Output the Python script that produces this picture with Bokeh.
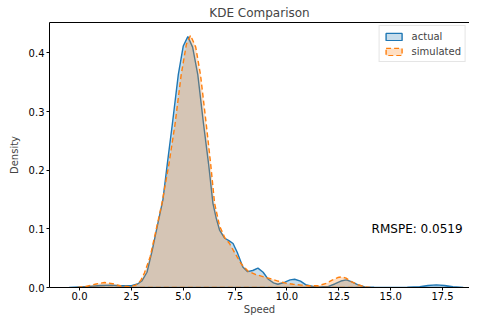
from bokeh.plotting import figure
from bokeh.models import Range1d, FixedTicker, PrintfTickFormatter, LinearAxis, Label, Legend, LegendItem
from bokeh.embed import file_html
from bokeh.resources import INLINE

# actual KDE
actual_x = [-0.5, 0.0, 0.5, 1.0, 1.5, 2.0, 2.5, 2.8, 3.0, 3.25, 3.5, 3.75, 4.02, 4.23, 4.47, 4.76,
            5.0, 5.22, 5.45, 5.7, 5.98, 6.22, 6.43, 6.59, 6.75, 7.0, 7.2, 7.4, 7.6, 7.87, 8.1, 8.35,
            8.6, 8.85, 9.1, 9.35, 9.56, 9.9, 10.15, 10.37, 10.65, 10.9, 11.25, 11.6, 12.0, 12.3,
            12.6, 12.86, 13.1, 13.4, 13.75, 14.2, 15.0, 15.8, 16.4, 16.8, 17.2, 17.6, 18.0, 18.5]
actual_y = [0.0, 0.001, 0.002, 0.0035, 0.004, 0.003, 0.003, 0.006, 0.011, 0.026, 0.063, 0.105, 0.15,
            0.211, 0.278, 0.363, 0.412, 0.428, 0.41, 0.363, 0.278, 0.211, 0.1435, 0.118, 0.098,
            0.084, 0.08, 0.075, 0.06, 0.035, 0.027, 0.029, 0.033, 0.026, 0.014, 0.008, 0.0056,
            0.009, 0.013, 0.014, 0.011, 0.005, 0.0017, 0.001, 0.002, 0.006, 0.011, 0.013, 0.01,
            0.005, 0.001, 0.0003, 0.0002, 0.0006, 0.0015, 0.0035, 0.0045, 0.0035, 0.0012, 0.0]

# simulated KDE
sim_x = [-0.1, 0.3, 0.8, 1.2, 1.6, 2.0, 2.4, 2.7, 2.95, 3.13, 3.4, 3.7, 3.97, 4.31, 4.6, 4.9,
         5.15, 5.35, 5.6, 5.83, 6.11, 6.32, 6.51, 6.75, 7.0, 7.23, 7.5, 7.8, 8.12, 8.5, 9.0,
         9.3, 9.56, 10.0, 10.3, 10.7, 11.0, 11.5, 11.9, 12.2, 12.45, 12.62, 12.85, 13.1, 13.4,
         13.7, 14.06]
sim_y = [0.0, 0.002, 0.006, 0.0085, 0.0065, 0.0025, 0.0015, 0.004, 0.012, 0.025, 0.052, 0.1,
         0.1435, 0.211, 0.278, 0.363, 0.415, 0.43, 0.41, 0.363, 0.278, 0.211, 0.1435, 0.105,
         0.085, 0.075, 0.058, 0.04, 0.028, 0.022, 0.017, 0.014, 0.011, 0.007, 0.0056, 0.004,
         0.003, 0.003, 0.007, 0.013, 0.017, 0.018, 0.016, 0.01, 0.005, 0.0015, 0.0]

x_ticks = [0.0, 2.5, 5.0, 7.5, 10.0, 12.5, 15.0, 17.5]
y_ticks = [0.0, 0.1, 0.2, 0.3, 0.4]
rmspe_text = "RMSPE: 0.0519"

FONT = "DejaVu Sans"
BLUE = "#1f77b4"
ORANGE = "#ff7f0e"

p = figure(width=469, height=317, output_backend="svg", toolbar_location=None,
           x_range=Range1d(-1.45, 18.8), y_range=Range1d(0, 0.452),
           min_border_left=49, min_border_right=0, min_border_top=9, min_border_bottom=26)
p.title.text = "KDE Comparison"
p.title.align = "center"
p.title.text_font = FONT
p.title.text_font_size = "12px"
p.title.text_font_style = "normal"
p.title.offset = 0
p.title.standoff = 6

p.outline_line_color = None
p.grid.visible = False
p.background_fill_color = "white"

def poly(xs, ys):
    return xs + [xs[-1], xs[0]], ys + [0.0, 0.0]

ax, ay = poly(actual_x, actual_y)
sx, sy = poly(sim_x, sim_y)
r1 = p.patch(ax, ay, fill_color=BLUE, fill_alpha=0.25, line_color=BLUE, line_width=1.4)
r2 = p.patch(sx, sy, fill_color=ORANGE, fill_alpha=0.25, line_color=ORANGE, line_width=1.4,
             line_dash="5 3")

legend = Legend(items=[LegendItem(label="actual", renderers=[r1]),
                       LegendItem(label="simulated", renderers=[r2])],
                location="top_right", label_text_font=FONT, label_text_font_size="10px",
                glyph_width=20, glyph_height=9, label_height=12, spacing=3, padding=4,
                margin=3, border_line_color="#cccccc", border_line_width=1,
                background_fill_alpha=0.8, label_standoff=8)
p.add_layout(legend, "center")

for ax_ in (p.xaxis[0], p.yaxis[0]):
    ax_.major_label_text_font = FONT
    ax_.major_label_text_font_size = "10px"
    ax_.major_label_text_color = "black"
    ax_.axis_label_text_font = FONT
    ax_.axis_label_text_font_size = "10px"
    ax_.axis_label_text_font_style = "normal"
    ax_.axis_line_color = "black"
    ax_.major_tick_line_color = "black"
    ax_.minor_tick_line_color = None
    ax_.major_tick_out = 3
    ax_.major_tick_in = 0
    ax_.major_label_standoff = 2
    ax_.axis_label_standoff = 1

p.xaxis[0].ticker = FixedTicker(ticks=x_ticks)
p.xaxis[0].formatter = PrintfTickFormatter(format="%.1f")
p.xaxis[0].axis_label = "Speed"
p.xaxis[0].major_label_standoff = 1
p.yaxis[0].ticker = FixedTicker(ticks=y_ticks)
p.yaxis[0].formatter = PrintfTickFormatter(format="%.1f")
p.yaxis[0].axis_label = "Density"
p.yaxis[0].axis_label_standoff = 6

top = LinearAxis(major_tick_line_color=None, minor_tick_line_color=None,
                 major_label_text_font_size="0px", axis_line_color="black",
                 major_label_standoff=0, major_tick_out=0)
top.ticker = FixedTicker(ticks=[])
p.add_layout(top, "above")

p.add_layout(Label(x=14.08, y=0.0996, text=rmspe_text, text_font=FONT, text_font_size="12px",
                   text_baseline="middle", text_align="left", text_color="black"))

open("out.html", "w").write(file_html(p, INLINE))
